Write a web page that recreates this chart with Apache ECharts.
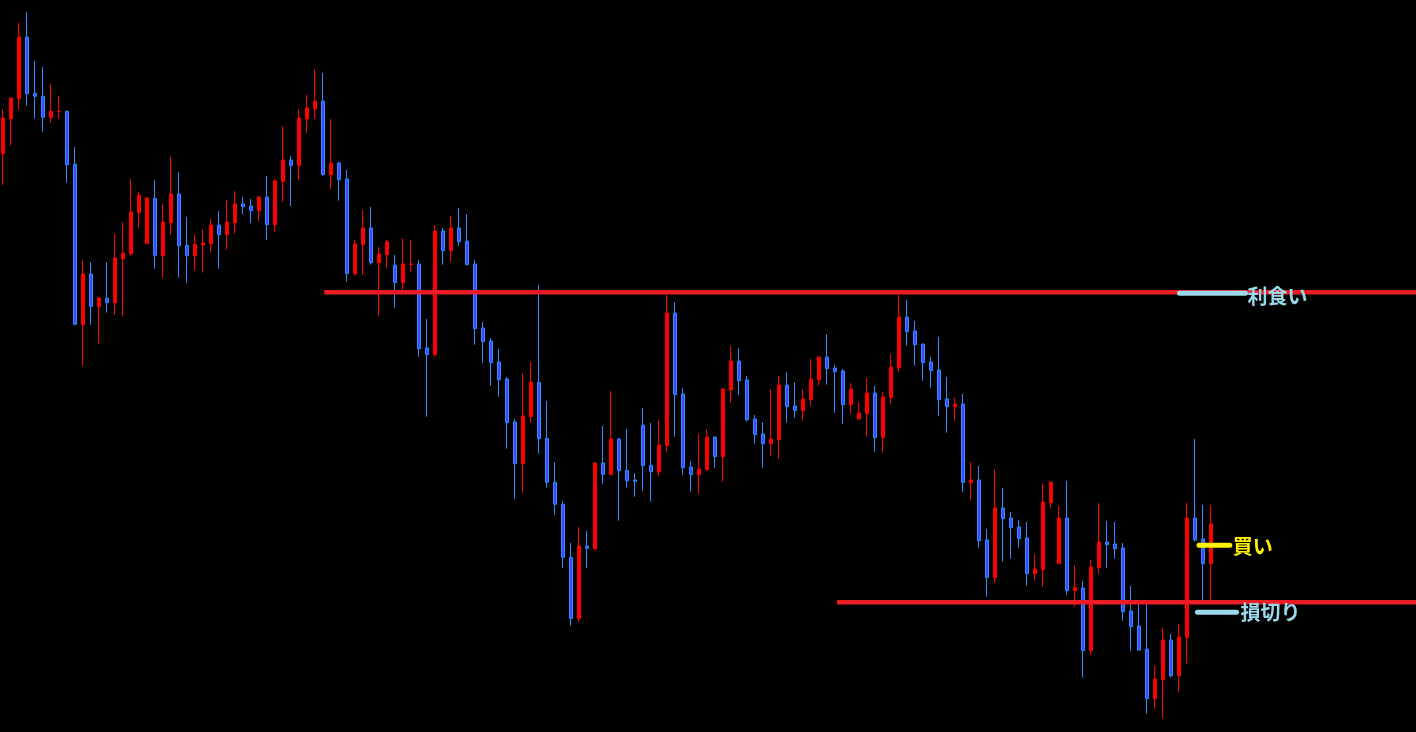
<!DOCTYPE html>
<html>
<head>
<meta charset="utf-8">
<script src="https://cdn.jsdelivr.net/npm/echarts@6/dist/echarts.min.js"></script>
<style>
html,body{margin:0;padding:0;background:#000;overflow:hidden;width:1416px;height:732px;}
#chart{width:1424px;height:732px;margin-left:-1px;}
</style>
</head>
<body>
<div id="chart"></div>
<script>
// Candle values (price units)
const opens = [846.3,881.3,901.3,963,906.7,903.7,882.3,888.5,888.7,835.7,
675.3,726,693.3,701.7,697.3,741.3,746.3,787.3,756.3,801.7,
744.3,777.3,806,754.7,744.3,755,756.3,775,765.3,777.3,
796,794,789.3,803,775.3,818.3,840,834.3,881,891,
899,825.3,837,821,726.3,755.3,772,737.3,745.3,735,
717.3,735.5,736,652,645.3,769,749.3,772,759,736,
672,659,638,621,578,536.3,583.3,617.7,561.7,517.7,
495.7,442.7,381.3,454,451.3,537,525.3,561,529.7,520,
575,534.7,528.3,554.3,687,606,533,525.3,530.3,563,
543.3,610,639,620,581,566,556.3,560.3,615,594,
589.3,600.3,620.3,643,632,629,595.3,581,586.3,607,
562.3,602.3,632.3,683,669,656,638,630,601,593.3,
596,517.3,520,460,422.3,492,482,473,462,426.3,
430.3,497.3,436.3,482,409.3,412,349.3,432.3,458,456,
452,389,374,351,301.3,320.3,360,324.3,362.3,482,
461,436.3];
const closes = [882,902,963,906.3,903.7,882.7,888.7,888.7,835.3,675.7,
726,693.7,702,697.3,742,747,788,805,802,744.7,
778,806,754.3,744.3,755.7,757,775,765.3,778,796,
793.3,789.3,803,775.3,819,840,834.3,882,892,899,
825.3,837,820.3,726.3,756,772,737.3,746,758,717.3,
736,736,651.3,645.3,769,749.3,772,758.3,735.3,671.3,
658.3,637.3,620.3,577.3,536.3,584,618,561.3,517.7,495.7,
442.7,381.7,454,451.7,537,525.7,561,529.3,519.3,518.7,
534.3,528.3,555,687,605.3,532.3,525.3,531,563,543.3,
611,639,619.3,580.3,565.3,556.3,561,615,593.3,589.3,
601,621,643,631.3,628.3,595.3,611,587,607,562.3,
603,633,683,668.3,655.3,637.3,629.3,600.3,593.3,596,
517.7,520,459.3,422.3,492,481.3,472.3,461.3,426.3,431,
498,518,482,409.3,412.3,349.3,433,458,455.3,451.3,
388.3,373.3,350,301.3,321,360,324.3,363,482,460.3,
436.3,476];
const highs = [891,902,977,988,939,933,916,904,888.7,853,
740,738,703,738,766,778,821,808,803,820,
796,843.3,828,783,765,771,781,789,800,809,
803,801,804,824,821,874,844,891,905,931,
927,881,838,830,760,790,793,753,760,745,
762,760,740,681,775,772,784,792,786,740,
678,662,651,623,581,627,638,715,599,538,
499,457,473,469,538,574,609,562,571,527,
592,577,580,705,698,612,539,566,571,563,
612,654,652,624,585,578,611,624,628,618,
611,641,643,666,635,631,617,598,622,614,
608,646,705,700,679,656,643,663,623,602.3,
606,538,534,471,531,512,488,480,478,446,
516,518,494,519,435,419,440,497,479,478,
457,414,397,400,334.3,372,366,376,497,561,
495,495];
const lows = [815,854.3,890.3,894.3,881.3,868.3,877.3,881.3,817.3,675.7,
634.3,675.3,656.3,687.3,685,684.3,744.3,772.3,756.3,731.3,
722.3,765.3,722.3,717.3,729.3,727.3,748.3,731.3,750.3,766.3,
786,777,779,760,768,798,794,820,867,881,
824.3,811,799.3,718.3,724.3,725.3,735.3,684.3,732.3,692.3,
710,728.3,643.3,583.3,643.3,735.3,738.3,754.3,735.3,655.3,
637.3,614,603.3,551.3,501.3,507.3,577.3,546.3,512.3,485.3,
432.3,374.3,378.3,432.3,449.3,516.3,525.3,479.3,512.3,503.3,
509.3,498.3,524.3,548.3,563.3,525.3,508.3,506.3,529.3,532.3,
518.3,597,605,578.3,556.3,532.3,544.3,541.3,577.3,582.3,
579.3,594.3,614.3,615.3,587.3,576.3,586.3,581,563.3,548.3,
547.3,596.3,628.3,654.3,634.3,619.3,612.3,584.3,567.3,579.3,
508,500.3,452.3,403.3,417.3,438.3,441.3,452.3,414.3,420.3,
413.3,492.3,436.3,405.3,393.3,322.3,345.3,426.3,432.3,441.3,
379.3,349.3,349.3,286.3,292.3,281.3,322.3,308.3,336.3,458.3,
400,400];

// Horizontal levels: take profit / stop loss
const takeProfitLevel = 707.7;
const stopLossLevel = 397.7;
const takeProfitStart = 40.16;   // bar index where the line begins
const stopLossStart = 104.25;
const slotCount = 178;           // bars + empty space to the right

// Annotation markers: [startIndex, endIndex, level, label]
const markTP  = [147.06, 155.31, 706.7, '利食い'];
const markBuy = [149.5, 153.35, 454.7, '買い'];
const markSL  = [149.3, 154.19, 387.7, '損切り'];

const categories = [];
for (let i = 0; i < slotCount; i++) categories.push(String(i));
const candles = opens.map((o, i) => [o, closes[i], lows[i], highs[i]]);

const RED = '#ED1C24', TURQ = '#99D9EA', YEL = '#FFF200';

function levelLine(start, level) {
  return {
    type: 'line', xAxisIndex: 1, yAxisIndex: 0, symbol: 'none', silent: true, z: 5,
    lineStyle: {color: RED, width: 4.5, cap: 'butt'},
    data: [[start, level], [slotCount - 0.5, level]]
  };
}
function marker(m, color, dist, off) {
  return {
    type: 'line', xAxisIndex: 1, yAxisIndex: 0, symbol: 'none', silent: true, z: 6,
    lineStyle: {color: color, width: 5, cap: 'round'},
    data: [[m[0], m[2]], [m[1], m[2]]],
    endLabel: {show: true, formatter: m[3], color: color, fontSize: 20, fontWeight: 'bold',
      fontFamily: 'Noto Sans CJK JP', distance: dist, offset: [0, off]}
  };
}

const chart = echarts.init(document.getElementById('chart'));
chart.setOption({
  backgroundColor: '#000',
  animation: false,
  grid: {left: 0, right: 0, top: 0, bottom: 0},
  xAxis: [
    {type: 'category', data: categories, show: false, boundaryGap: true},
    {type: 'value', min: -0.5, max: slotCount - 0.5, show: false}
  ],
  yAxis: {type: 'value', min: 268, max: 1000, show: false, splitLine: {show: false}},
  series: [
    {
      type: 'candlestick', data: candles, barWidth: 4, z: 2,
      itemStyle: {color: '#FF0000', color0: '#3C4CFF', borderColor: '#FF0000',
        borderColor0: '#2B8CFF', borderWidth: 1}
    },
    levelLine(takeProfitStart, takeProfitLevel),
    levelLine(stopLossStart, stopLossLevel),
    marker(markTP, TURQ, 2, 3),
    marker(markBuy, YEL, 3, 1),
    marker(markSL, TURQ, 4, 0)
  ]
});
</script>
</body>
</html>
